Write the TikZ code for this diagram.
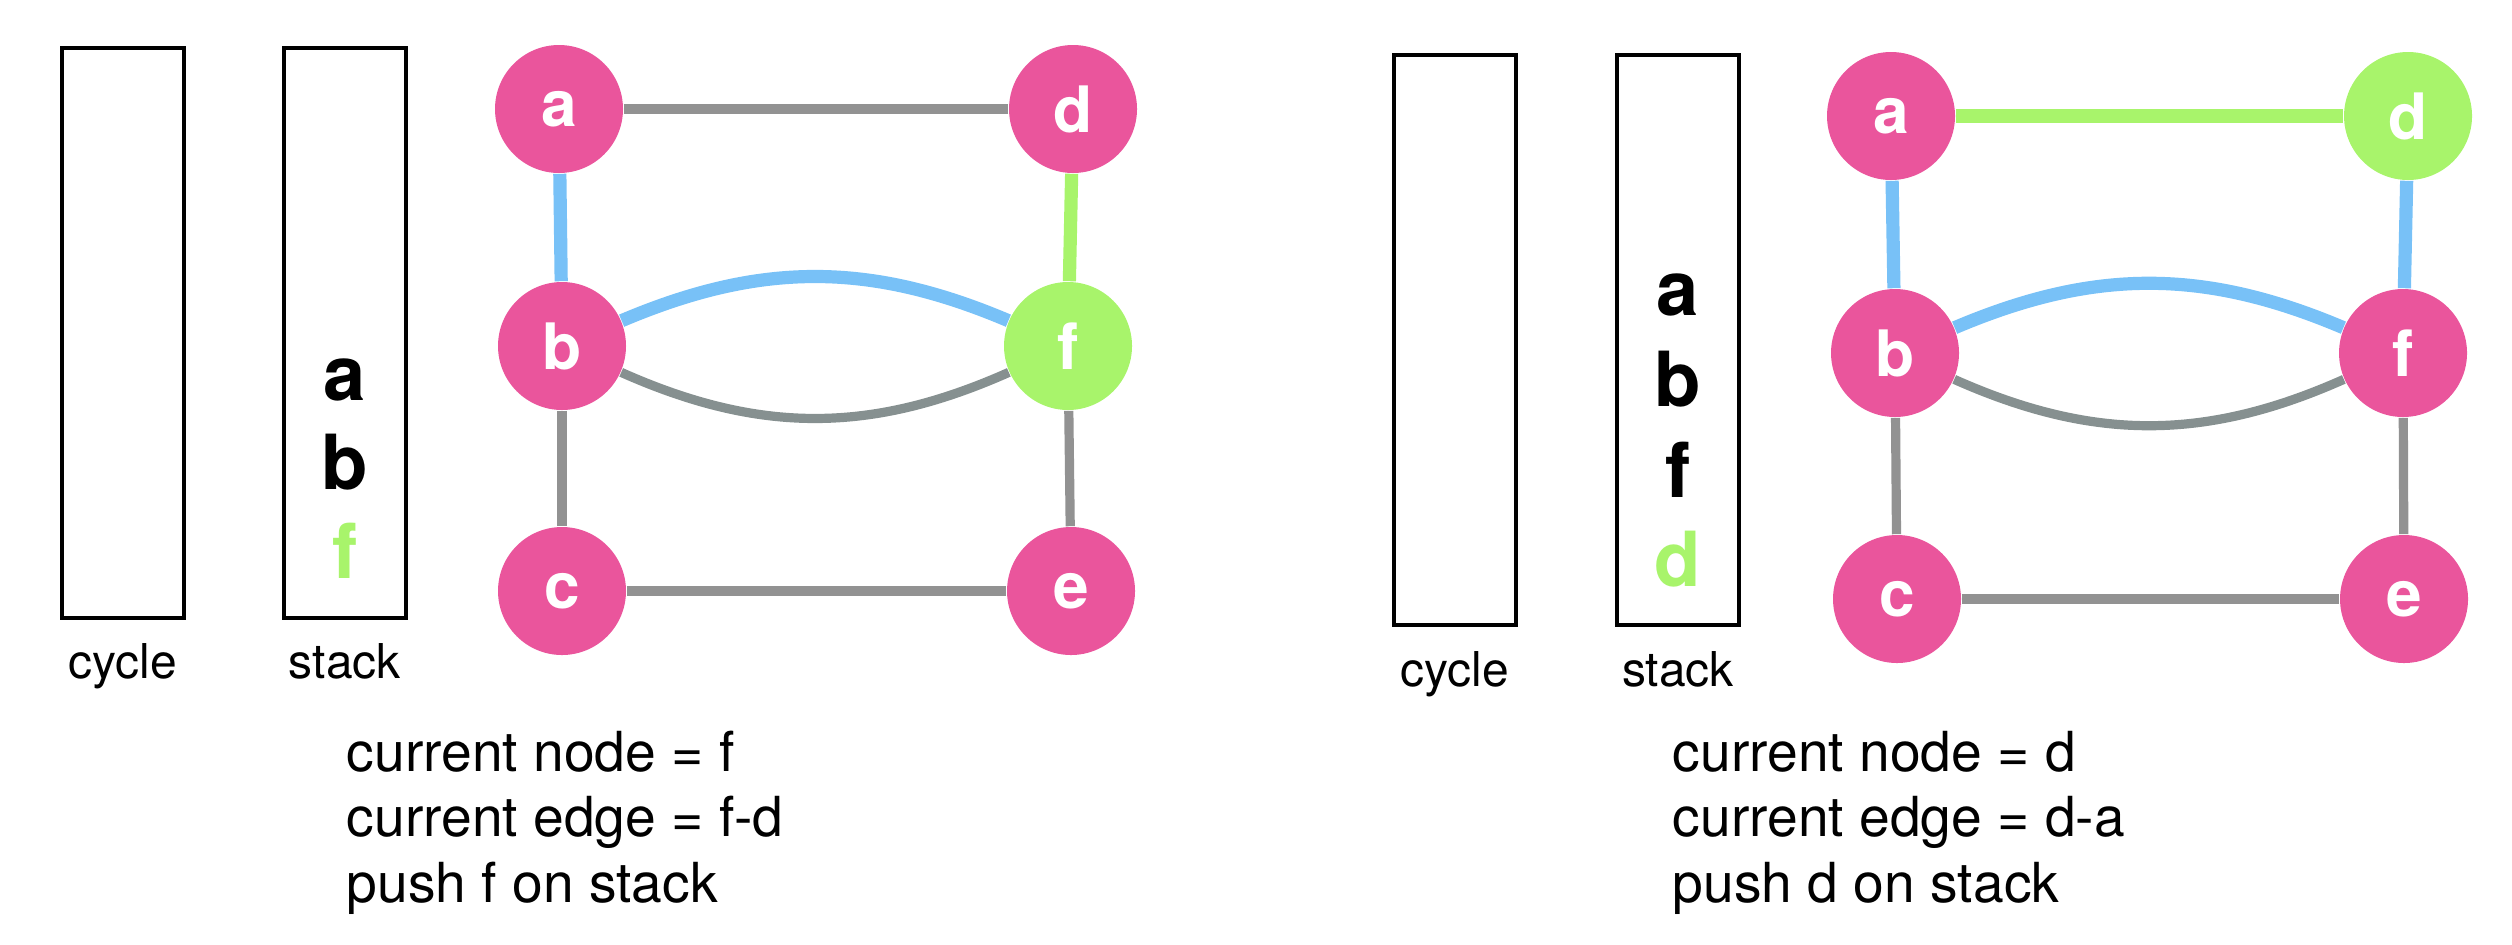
\documentclass[tikz,border=0pt]{standalone}
\usepackage{fontspec}
\setmainfont{TeX Gyre Heros}
\definecolor{vpink}{HTML}{EA559C}
\definecolor{vgreen}{HTML}{A8F46B}
\definecolor{eblue}{HTML}{78C1F7}
\definecolor{egray}{HTML}{929292}
\definecolor{eteal}{HTML}{869090}
\newcommand{\drawvert}{\node[circle,fill=vpink,text=white,minimum size=32pt,inner sep=0,font=\fontsize{16}{16}\selectfont\bfseries]}
\newcommand{\drawcur}{\node[circle,fill=vgreen,text=white,minimum size=32pt,inner sep=0,font=\fontsize{16}{16}\selectfont\bfseries]}
\newcommand{\drawbin}{\node[draw,line width=1pt,minimum width=30.5pt,minimum height=142.5pt,inner sep=0]}
\newcommand{\drawlabel}{\node[anchor=base,font=\fontsize{12}{14}\selectfont]}
\newcommand{\drawitem}{\node[anchor=base,font=\fontsize{19}{19}\selectfont\bfseries]}
\newcommand{\drawline}{\node[anchor=base west,inner sep=0,font=\fontsize{13.8}{16}\selectfont]}

\begin{document}
\begin{tikzpicture}[x=0.25pt, y=-0.25pt,
  plain/.style={line width=2.3pt, egray},
  tree/.style={line width=3.3pt, eblue},
  walk/.style={line width=3.3pt, vgreen},
  back/.style={line width=2.3pt, eteal}]
\useasboundingbox (0,0) rectangle (2512,944);
%left: push f
\drawbin (cyc1) at (123,333) {};
\drawbin (stk1) at (345,333) {};
\drawlabel (cyc1l) at (123,678) {cycle};
\drawlabel (stk1l) at (345,678) {stack};
\drawitem (s1a) at (345,400) {a};
\drawitem (s1b) at (345,489) {b};
\drawitem[vgreen] (s1f) at (345,578) {f};
\drawvert (a1) at (559,109) {a};
\drawvert (d1) at (1073,109) {d};
\drawvert (b1) at (562,346) {b};
\drawcur (f1) at (1068,346) {f};
\drawvert (c1) at (562,591) {c};
\drawvert (e1) at (1071,591) {e};
\draw[plain] (a1) to (d1);
\draw[tree] (a1) to (b1);
\draw[walk] (d1) to (f1);
\draw[tree] (b1) to[bend left=23] (f1);
\draw[back] (b1) to[bend right=24] (f1);
\draw[plain] (b1) to (c1);
\draw[plain] (f1) to (e1);
\draw[plain] (c1) to (e1);
\drawline (t1a) at (346,771) {current node = f};
\drawline (t1b) at (346,836) {current edge = f-d};
\drawline (t1c) at (346,902) {push f on stack};
%right: push d
\drawbin (cyc2) at (1455,340) {};
\drawbin (stk2) at (1678,340) {};
\drawlabel (cyc2l) at (1455,686) {cycle};
\drawlabel (stk2l) at (1678,686) {stack};
\drawitem (s2a) at (1678,315) {a};
\drawitem (s2b) at (1678,406) {b};
\drawitem (s2f) at (1678,497) {f};
\drawitem[vgreen] (s2d) at (1678,586) {d};
\drawvert (a2) at (1891,116) {a};
\drawcur (d2) at (2408,116) {d};
\drawvert (b2) at (1895,353) {b};
\drawvert (f2) at (2403,353) {f};
\drawvert (c2) at (1897,599) {c};
\drawvert (e2) at (2404,599) {e};
\draw[walk] (a2) to (d2);
\draw[tree] (a2) to (b2);
\draw[tree] (d2) to (f2);
\draw[tree] (b2) to[bend left=23] (f2);
\draw[back] (b2) to[bend right=24] (f2);
\draw[plain] (b2) to (c2);
\draw[plain] (f2) to (e2);
\draw[plain] (c2) to (e2);
\drawline (t2a) at (1672,771) {current node = d};
\drawline (t2b) at (1672,836) {current edge = d-a};
\drawline (t2c) at (1672,902) {push d on stack};
\end{tikzpicture}
\end{document}
